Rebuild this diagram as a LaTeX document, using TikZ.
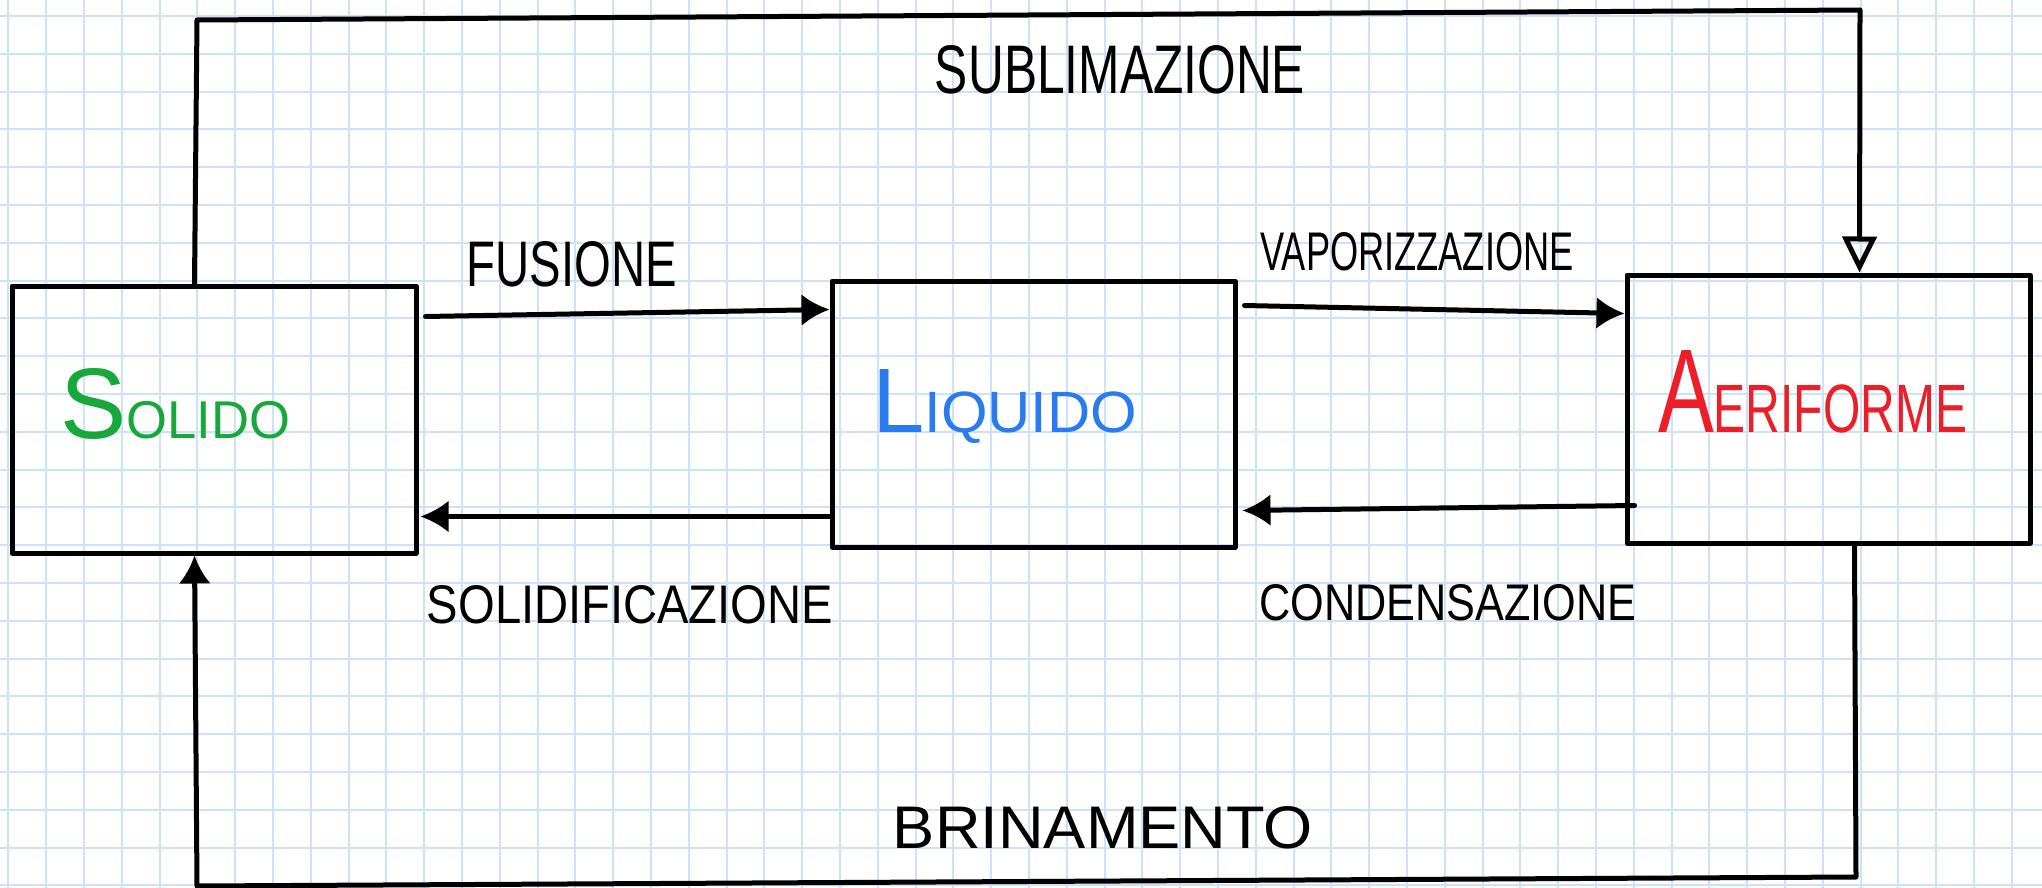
\documentclass[tikz,border=0pt]{standalone}
\usepackage{fontspec}
\setmainfont{Liberation Sans}
\usetikzlibrary{arrows.meta,calc}

\definecolor{gridblue}{RGB}{204,225,253}
\definecolor{solgreen}{RGB}{22,168,58}
\definecolor{liqblue}{RGB}{42,122,240}
\definecolor{aerred}{RGB}{236,30,40}

\tikzset{
  gridline/.style={draw=gridblue, line width=2pt},
  statebox/.style={draw=black, line width=5pt, line join=round, inner sep=0pt},
  conn/.style={draw=black, line width=5pt, line cap=round, line join=round},
  tipfull/.style={-{Latex[length=28pt,width=32pt]}},
  tipopen/.style={-{Triangle[open,length=36pt,width=34pt]}},
  lbl/.style={inner sep=0pt, text=black},
  boxlbl/.style={inner sep=0pt, anchor=base west}
}

\begin{document}
\begin{tikzpicture}[x=1pt,y=-1pt]
\useasboundingbox (0,0) rectangle (2042,888);
\fill[white] (0,0) rectangle (2042,888);

% squared paper
\foreach \i in {0,...,53} \draw[gridline] ({8.3+37.8*\i},0) -- ({8.3+37.8*\i},888);
\foreach \j in {0,...,23} \draw[gridline] (0,{16+37.8*\j}) -- (2042,{16+37.8*\j});

% the three states
\node[statebox, minimum width=404pt, minimum height=267pt] (solido) at (214,419.5) {};
\node[statebox, minimum width=403pt, minimum height=266pt] (liquido) at (1033.5,414) {};
\node[statebox, minimum width=403pt, minimum height=268pt] (aeriforme) at (1828.5,409) {};

\node[boxlbl, text=solgreen] (tsolido) at (60,438)
  {\resizebox{230pt}{70pt}{{\fontsize{98}{98}\selectfont S}{\fontsize{52}{52}\selectfont OLIDO}}};
\node[boxlbl, text=liqblue] (tliquido) at (872,432)
  {\resizebox{265pt}{63pt}{{\fontsize{88}{88}\selectfont L}{\fontsize{56}{56}\selectfont IQUIDO}}};
\node[boxlbl, text=aerred] (taeriforme) at (1658,432)
  {\resizebox{309pt}{82pt}{{\fontsize{115}{115}\selectfont A}{\fontsize{66}{66}\selectfont ERIFORME}}};

% corner points of the two long connectors
\coordinate (topleft) at (197,20);
\coordinate (topright) at (1860,10);
\coordinate (botright) at (1856,877);
\coordinate (botleft) at (197,886);

% transitions
\draw[conn, tipfull] ($(solido.north east)+(7,33)$) -- ($(liquido.north west)+(0,31)$);
\draw[conn, tipfull] ($(liquido.south west)+(3,-33)$) -- ($(solido.south east)+(2,-39)$);
\draw[conn, tipfull] ($(liquido.north east)+(7,27)$) -- ($(aeriforme.north west)+(0,41)$);
\draw[conn, tipfull] ($(aeriforme.south west)+(10,-40)$) -- ($(liquido.south east)+(5,-39)$);
\draw[conn, tipopen] ($(solido.north west)+(185,0)$) -- (topleft) -- (topright)
  -- ($(aeriforme.north west)+(235,0)$);
\draw[conn, tipfull] ($(aeriforme.south west)+(230,0)$) -- (botright) -- (botleft)
  -- ($(solido.south west)+(185,0)$);

% transition names
\node[lbl] (lsub) at (1120,70) {\resizebox{370pt}{48pt}{SUBLIMAZIONE}};
\node[lbl] (lfus) at (572,264) {\resizebox{210pt}{45pt}{FUSIONE}};
\node[lbl] (lvap) at (1417,252) {\resizebox{313pt}{38pt}{VAPORIZZAZIONE}};
\node[lbl] (lsol) at (630,605) {\resizebox{406pt}{38pt}{SOLIDIFICAZIONE}};
\node[lbl] (lcon) at (1448,603) {\resizebox{377pt}{36pt}{CONDENSAZIONE}};
\node[lbl] (lbri) at (1103,828) {\resizebox{420pt}{42pt}{BRINAMENTO}};
\end{tikzpicture}
\end{document}
